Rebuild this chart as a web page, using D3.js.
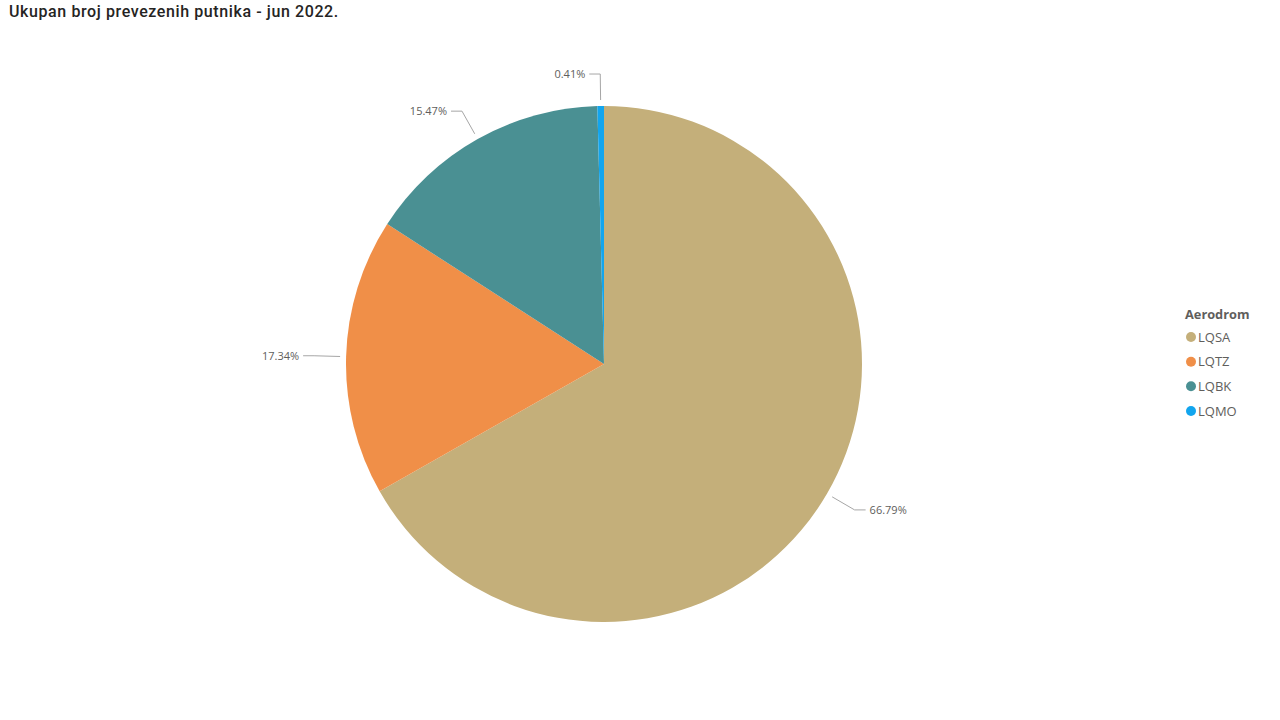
<!DOCTYPE html>
<html><head><meta charset="utf-8">
<script src="https://cdn.jsdelivr.net/npm/d3@7"></script>
<style>
body{margin:0;background:#fff;}
svg{display:block;}
</style></head>
<body>
<svg id="chart" width="1280" height="720"></svg>
<script>
const categories = ["LQSA", "LQTZ", "LQBK", "LQMO"];
const values = [66.79, 17.34, 15.47, 0.41];
const labels = ["66.79%", "17.34%", "15.47%", "0.41%"];
const colors = ["#C4AF7A", "#F08F48", "#4A9093", "#12A5EE"];
const title = "Ukupan broj prevezenih putnika - jun 2022.";
const legendTitle = "Aerodrom";

const svg = d3.select("#chart");
const cx = 604, cy = 364, r = 258;

svg.append("text").attr("x", 9).attr("y", 17)
  .attr("font-family", "Roboto, sans-serif").attr("font-size", 16).attr("font-weight", 500)
  .attr("letter-spacing", 0.6)
  .attr("fill", "#252423").text(title);

const data = categories.map((c, i) => ({cat: c, value: values[i], label: labels[i], color: colors[i]}));
const pie = d3.pie().value(d => d.value).sort(null);
const arcs = pie(data);
const arc = d3.arc().innerRadius(0).outerRadius(r);

const g = svg.append("g").attr("transform", `translate(${cx},${cy})`);
g.selectAll("path").data(arcs).join("path")
  .attr("d", arc).attr("fill", d => d.data.color);

const pt = (a, rad) => [rad * Math.sin(a), -rad * Math.cos(a)];
arcs.forEach(d => {
  const mid = (d.startAngle + d.endAngle) / 2;
  const p1 = pt(mid, r + 6), p2 = pt(mid, r + 32);
  const right = Math.sin(mid) > 0;
  const p3 = [p2[0] + (right ? 11 : -11), p2[1]];
  g.append("polyline").attr("points", [p1, p2, p3].map(p => p.join(",")).join(" "))
    .attr("fill", "none").attr("stroke", "#A6A6A6").attr("stroke-width", 1);
  g.append("text").attr("x", p3[0] + (right ? 4 : -4)).attr("y", p3[1])
    .attr("dy", "0.35em").attr("text-anchor", right ? "start" : "end")
    .attr("font-family", "'Segoe UI', 'Open Sans', sans-serif").attr("font-size", 11)
    .attr("fill", "#605E5C").text(d.data.label);
});

const lg = svg.append("g").attr("transform", "translate(1185,0)");
lg.append("text").attr("x", 0).attr("y", 319)
  .attr("font-family", "'Segoe UI', 'Open Sans', sans-serif").attr("font-size", 12.8).attr("font-weight", 700)
  .attr("fill", "#605E5C").text(legendTitle);
const ly = d3.scalePoint().domain(categories).range([337, 411]);
categories.forEach((c, i) => {
  lg.append("circle").attr("cx", 6).attr("cy", ly(c)).attr("r", 5).attr("fill", colors[i]);
  lg.append("text").attr("x", 13).attr("y", ly(c)).attr("dy", "0.35em")
    .attr("font-family", "'Segoe UI', 'Open Sans', sans-serif").attr("font-size", 13)
    .attr("fill", "#605E5C").text(c);
});
</script>
</body></html>
